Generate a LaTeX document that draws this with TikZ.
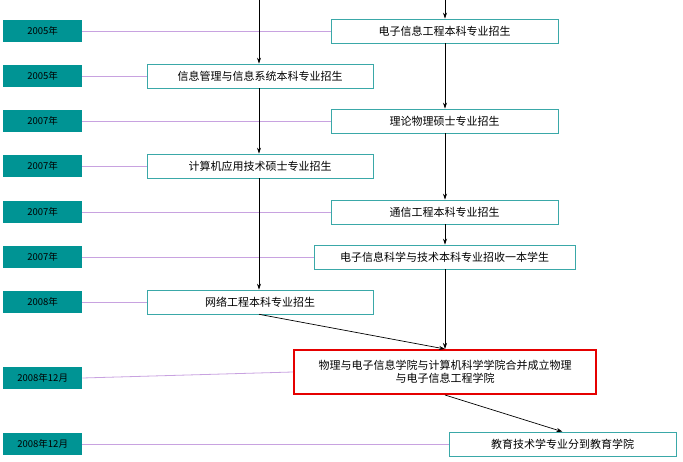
\documentclass[tikz,border=0pt]{standalone}
\usepackage{fontspec}
\setmainfont{Noto Sans CJK SC}
\usetikzlibrary{arrows.meta}
\definecolor{yrc}{HTML}{009494}
\definecolor{lkc}{HTML}{C8A2E0}
\definecolor{bdc}{HTML}{3AA8A8}
\begin{document}
\begin{tikzpicture}[x=1pt,y=-1pt,
  yr/.style={fill=yrc,draw=none,minimum width=79pt,minimum height=22pt,font=\fontsize{9.5}{10}\selectfont,inner sep=0pt},
  ev/.style={draw=bdc,fill=white,minimum height=24pt,font=\fontsize{11}{12}\selectfont,inner sep=1pt,line width=0.6pt},
  lk/.style={draw=lkc,line width=0.8pt},
  ar/.style={-{Stealth[length=6pt,width=4pt]},line width=0.7pt}]
\useasboundingbox (0,0) rectangle (683,462);
\foreach \n/\y/\t in {y1/31/2005年,y2/76/2005年,y3/121/2007年,y4/166/2007年,y5/212/2007年,y6/257/2007年,y7/302/2008年,y8/378/2008年12月,y9/444/2008年12月}
  \node[yr,anchor=west] (\n) at (3,\y) {\t};
\node[ev,minimum width=227pt] (e1) at (444.5,31) {电子信息工程本科专业招生};
\node[ev,minimum width=226pt] (e2) at (260,76) {信息管理与信息系统本科专业招生};
\node[ev,minimum width=227pt] (e3) at (444.5,121) {理论物理硕士专业招生};
\node[ev,minimum width=226pt] (e4) at (260,166) {计算机应用技术硕士专业招生};
\node[ev,minimum width=227pt] (e5) at (444.5,212) {通信工程本科专业招生};
\node[ev,minimum width=261pt] (e6) at (444.5,257) {电子信息科学与技术本科专业招收一本学生};
\node[ev,minimum width=226pt] (e7) at (260,302) {网络工程本科专业招生};
\node[draw=red!90!black,line width=2pt,fill=white,minimum width=302pt,minimum height=44pt,align=center,font=\fontsize{11}{13}\selectfont] (e8) at (445,372) {物理与电子信息学院与计算机科学学院合并成立物理\\与电子信息工程学院};
\node[ev,minimum width=227pt] (e9) at (562.5,444) {教育技术学专业分到教育学院};
\foreach \a/\b in {y1/e1,y2/e2,y3/e3,y4/e4,y5/e5,y6/e6,y7/e7,y9/e9}
  \draw[lk] (\a.east) -- (\b.west);
\draw[lk] (y8.east) -- (e8.west);
\coordinate (tl) at (259,0);
\coordinate (tr) at (445,0);
\draw[ar] (tl) -- (e2.north -| tl);
\draw[ar] (e2.south -| tl) -- (e4.north -| tl);
\draw[ar] (e4.south -| tl) -- (e7.north -| tl);
\draw[ar] (tr) -- (e1.north -| tr);
\draw[ar] (e1.south -| tr) -- (e3.north -| tr);
\draw[ar] (e3.south -| tr) -- (e5.north -| tr);
\draw[ar] (e5.south -| tr) -- (e6.north -| tr);
\draw[ar] (e6.south -| tr) -- (e8.north -| tr);
\draw[ar] (e7.south -| tl) -- (e8.north -| tr);
\draw[ar] (e8.south -| tr) -- (e9.north);
\end{tikzpicture}
\end{document}
